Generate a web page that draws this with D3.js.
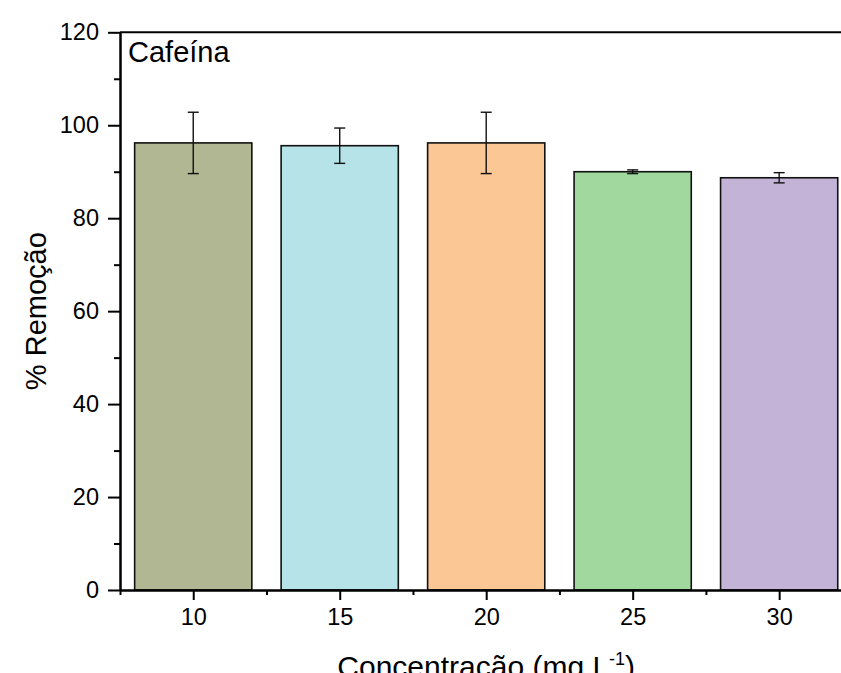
<!DOCTYPE html>
<html>
<head>
<meta charset="utf-8">
<script src="https://cdn.jsdelivr.net/npm/d3@7"></script>
<style>
  html, body { margin: 0; padding: 0; background: #fff; overflow: hidden; }
  svg { display: block; font-family: 'Liberation Sans', Arial, sans-serif; }
</style>
</head>
<body>
<script>
'use strict';

// data
const concentrations = [10, 15, 20, 25, 30];
const removal = [96.2, 95.6, 96.2, 90.0, 88.7];
const errors = [6.6, 3.8, 6.6, 0.4, 1.1];
const barColors = ['#b2b793', '#b5e3e8', '#fbc795', '#a0d89d', '#c2b3d7'];
const yTicks = [0, 20, 40, 60, 80, 100, 120];
const yMinorTicks = [10, 30, 50, 70, 90, 110];
const xMinorTicks = [7.5, 12.5, 17.5, 22.5, 27.5, 32.5];

const width = 841,
  height = 673;

const plot = {
  left: 120,
  right: 852.4,   // plot box runs past the window edge, as in the reference
  top: 32.3,
  bottom: 590
};

const svg = d3.select('body')
  .append('svg')
  .attr('width', width)
  .attr('height', height);

const x = d3.scaleLinear()
  .domain([7.5, 32.5])
  .range([plot.left, plot.right]);

const y = d3.scaleLinear()
  .domain([0, 120])
  .range([plot.bottom, plot.top]);

// bars take 80% of the 5-unit spacing
const barWidth = x(14) - x(10);

// bars
svg.append('g')
  .selectAll('rect')
  .data(concentrations)
  .enter()
  .append('rect')
  .attr('x', d => x(d) - barWidth / 2)
  .attr('y', (d, i) => y(removal[i]))
  .attr('width', barWidth)
  .attr('height', (d, i) => y(0) - y(removal[i]))
  .attr('fill', (d, i) => barColors[i])
  .attr('stroke', '#111')
  .attr('stroke-width', 1.6);

// error bars
const capHalf = 5.5;
const err = svg.append('g')
  .attr('stroke', '#111')
  .attr('stroke-width', 1.4);

concentrations.forEach((c, i) => {
  const cx = x(c);
  const hi = y(removal[i] + errors[i]);
  const lo = y(removal[i] - errors[i]);
  err.append('line').attr('x1', cx).attr('x2', cx).attr('y1', hi).attr('y2', lo);
  err.append('line').attr('x1', cx - capHalf).attr('x2', cx + capHalf).attr('y1', hi).attr('y2', hi);
  err.append('line').attr('x1', cx - capHalf).attr('x2', cx + capHalf).attr('y1', lo).attr('y2', lo);
});

// top border of the frame
svg.append('line')
  .attr('x1', plot.left)
  .attr('x2', plot.right)
  .attr('y1', plot.top)
  .attr('y2', plot.top)
  .attr('stroke', '#000')
  .attr('stroke-width', 2);

// y axis
const yAxis = d3.axisLeft(y)
  .tickValues(yTicks)
  .tickSize(12)
  .tickSizeOuter(0)
  .tickPadding(9)
  .tickFormat(d3.format('d'));

const yMinor = d3.axisLeft(y)
  .tickValues(yMinorTicks)
  .tickSize(6)
  .tickSizeOuter(0)
  .tickFormat('');

svg.append('g')
  .attr('transform', `translate(${plot.left},0)`)
  .call(yMinor);

svg.append('g')
  .attr('transform', `translate(${plot.left},0)`)
  .call(yAxis);

// x axis
const xAxis = d3.axisBottom(x)
  .tickValues(concentrations)
  .tickSize(10)
  .tickSizeOuter(0)
  .tickPadding(8)
  .tickFormat(d3.format('d'));

const xMinor = d3.axisBottom(x)
  .tickValues(xMinorTicks)
  .tickSize(5)
  .tickSizeOuter(0)
  .tickFormat('');

svg.append('g')
  .attr('transform', `translate(0,${plot.bottom})`)
  .call(xMinor);

svg.append('g')
  .attr('transform', `translate(0,${plot.bottom})`)
  .call(xAxis);

svg.selectAll('.domain, .tick line')
  .attr('stroke', '#000')
  .attr('stroke-width', 2);

svg.selectAll('.tick text')
  .attr('fill', '#000')
  .style('font-size', '23.5px');

// panel label
svg.append('text')
  .attr('x', 128)
  .attr('y', 62)
  .style('font-size', '29px')
  .text('Cafeína');

// axis titles
svg.append('text')
  .attr('transform', `translate(46,${(plot.top + plot.bottom) / 2}) rotate(-90)`)
  .attr('text-anchor', 'middle')
  .style('font-size', '29px')
  .text('% Remoção');

const xTitle = svg.append('text')
  .attr('x', (plot.left + plot.right) / 2)
  .attr('y', 677)
  .attr('text-anchor', 'middle')
  .style('font-size', '30px');

xTitle.append('tspan').text('Concentração (mg L');
xTitle.append('tspan')
  .attr('dy', -12)
  .style('font-size', '18px')
  .text('-1');
xTitle.append('tspan')
  .attr('dy', 12)
  .text(')');
</script>
</body>
</html>
